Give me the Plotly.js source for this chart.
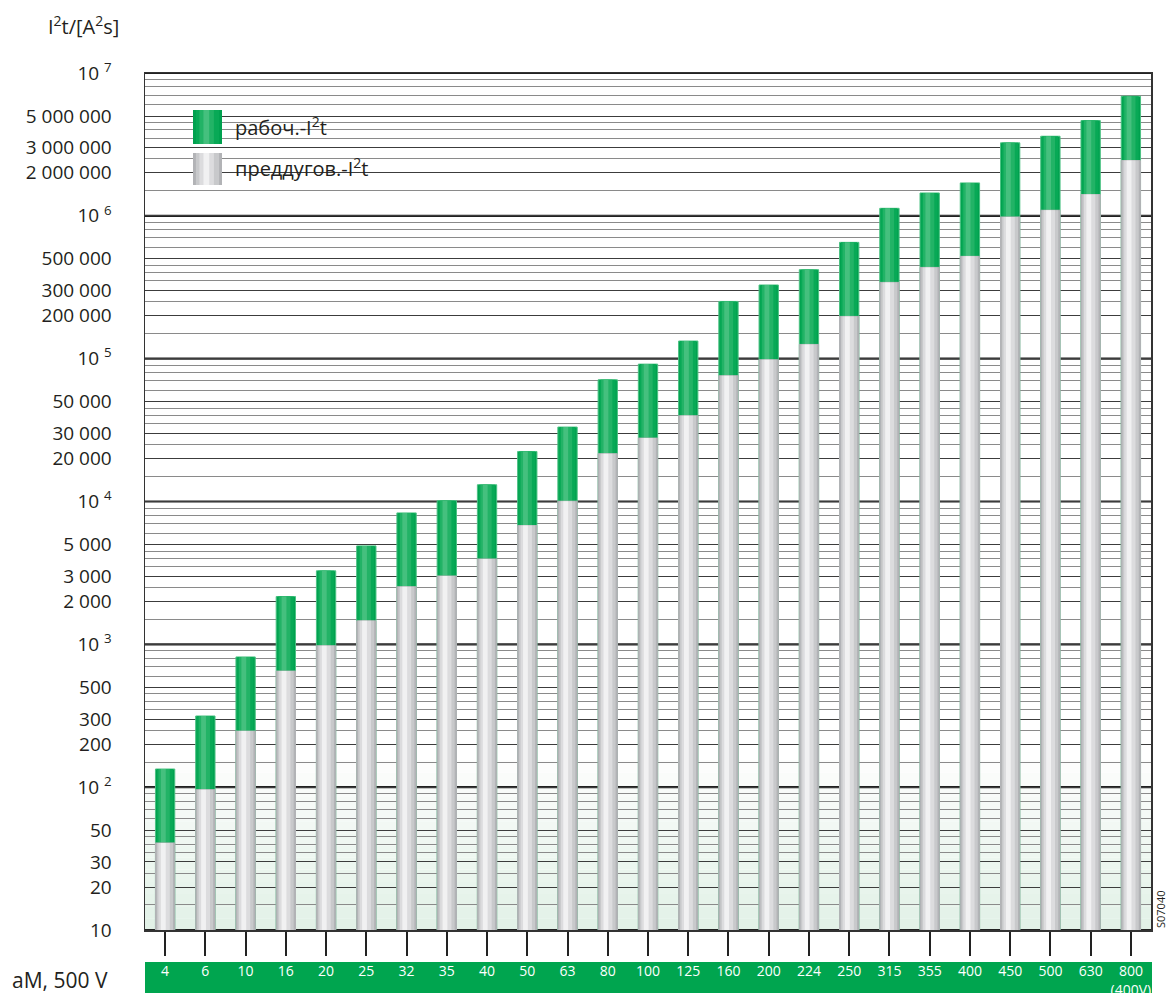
<!DOCTYPE html>
<html>
<head>
<meta charset="utf-8">
<script src="https://cdn.plot.ly/plotly-3.0.1.min.js"></script>
<style>html,body{margin:0;padding:0;background:#fff;}#chart{width:1169px;height:993px;}</style>
</head>
<body>
<div id="chart"></div>
<script>
// ---- data ----
const categories = ['4','6','10','16','20','25','32','35','40','50','63','80','100','125','160','200','224','250','315','355','400','450','500','630','800'];
const categoryLabels = ['4','6','10','16','20','25','32','35','40','50','63','80','100','125','160','200','224','250','315','355','400','450','500','630','800<br>(400V)'];
// pre-arcing I2t (grey part top)
const preArcing = [40.7, 96, 247, 650, 977, 1460, 2530, 3010, 3960, 6780, 10050, 21600, 27800, 39800, 75900, 98200, 125800, 197600, 342000, 435500, 520300, 982000, 1094000, 1408000, 2437000];
// operating I2t (green part top)
const operating = [134, 315, 816, 2160, 3270, 4890, 8320, 10140, 13100, 22400, 33200, 71100, 91600, 132900, 251600, 328000, 419800, 651900, 1129000, 1446000, 1700000, 3243000, 3608000, 4645000, 6875000];
// y tick labels
const yTickVals = [10, 20, 30, 50, 100, 200, 300, 500, 1e3, 2e3, 3e3, 5e3, 1e4, 2e4, 3e4, 5e4, 1e5, 2e5, 3e5, 5e5, 1e6, 2e6, 3e6, 5e6, 1e7];
const yTickText = ['10','20','30','50','10 <sup>2</sup>','200','300','500','10 <sup>3</sup>','2 000','3 000','5 000','10 <sup>4</sup>','20 000','30 000','50 000','10 <sup>5</sup>','200 000','300 000','500 000','10 <sup>6</sup>','2 000 000','3 000 000','5 000 000','10 <sup>7</sup>'];
const gridMantissas = [1.5, 2.5, 3.5, 4, 4.5, 6, 7, 8, 9];
const decades = [10, 100, 1e3, 1e4, 1e5, 1e6, 1e7];
const legendNames = ['рабоч.-I<sup>2</sup>t', 'преддугов.-I<sup>2</sup>t'];

// ---- geometry helpers (pixel -> paper) ----
const M = {l:145, r:18, t:73, b:63};
const W = 1169, H = 993;
const pw = W - M.l - M.r, ph = H - M.t - M.b;
const px = x => (x - M.l) / pw;
const py = y => (H - M.b - y) / ph;

const minorVals = [];
decades.slice(0, -1).forEach(d => gridMantissas.forEach(m => minorVals.push(d * m)));

const widths = [0.48, 0.40, 0.28, 0.12];
const offsets = [-0.24, -0.205, -0.165, -0.105];
const greenCols = ['#00a14f', '#08a956', '#22b366', '#45c07e'];
const greyCols = ['#b2b3b6', '#c8c9cb', '#dcdcde', '#f1f1f2'];

const traces = [];
function addLayers(yv, cols, lineCol) {
  cols.forEach((c, i) => {
    traces.push({
      type: 'bar', x: categories, y: yv,
      width: widths[i], offset: offsets[i],
      marker: {color: c, line: {color: i === 0 ? lineCol : c, width: i === 0 ? 1 : 0}},
      showlegend: false, hoverinfo: 'skip'
    });
  });
}
addLayers(operating, greenCols, '#4cc283');
addLayers(preArcing, greyCols, '#b2b3b6');

const shapes = [];
// bottom light green tint
const nT = 14;
for (let i = 0; i < nT; i++) {
  const y0 = 930.5 - i * (170 / nT), y1 = 930.5 - (i + 1) * (170 / nT);
  const f = i / (nT - 1);
  const r = Math.round(226 + (252 - 226) * f), g = Math.round(241 + (253 - 241) * f), b = Math.round(231 + (252 - 231) * f);
  shapes.push({type:'rect', xref:'paper', yref:'paper', x0:0, x1:1, y0:py(y0), y1:py(y1), line:{width:0}, fillcolor:`rgb(${r},${g},${b})`, layer:'below'});
}
// decade lines (thicker)
decades.forEach(d => shapes.push({type:'line', xref:'paper', yref:'y', x0:0, x1:1, y0:d, y1:d, line:{color:'#222', width:2.2}, layer:'between'}));
// legend white box
shapes.push({type:'rect', xref:'paper', yref:'paper', x0:px(174), x1:px(391), y0:py(98), y1:py(194), line:{width:0}, fillcolor:'#ffffff', layer:'between'});
// legend swatches
function swatch(y0, y1, cols) {
  const x0 = 193, x1 = 222, w = x1 - x0;
  const fr = [[0,1],[0.1,0.9],[0.22,0.72],[0.36,0.56]];
  cols.forEach((c, i) => shapes.push({type:'rect', xref:'paper', yref:'paper', x0:px(x0 + w*fr[i][0]), x1:px(x0 + w*fr[i][1]), y0:py(y1), y1:py(y0), line:{width:0}, fillcolor:c, layer:'above'}));
}
swatch(110, 144, greenCols);
swatch(153, 185, greyCols);
// green category band
shapes.push({type:'rect', xref:'paper', yref:'paper', x0:0, x1:px(1152), y0:py(962), y1:py(1000), line:{width:0}, fillcolor:'#00a54f', layer:'below'});

const txt = '#231f20';
const font = '"Open Sans", "Noto Sans", sans-serif';
const annotations = [
  {text: 'I<sup>2</sup>t/[A<sup>2</sup>s]', xref:'paper', yref:'paper', x:px(46), y:py(25), xanchor:'left', yanchor:'middle', showarrow:false, font:{size:20, color:txt, family:font}},
  {text: 'aM, 500 V', xref:'paper', yref:'paper', x:px(10), y:py(980), xanchor:'left', yanchor:'middle', showarrow:false, font:{size:21, color:txt, family:font}},
  {text: 'S07040', xref:'paper', yref:'paper', x:px(1160), y:py(910), xanchor:'center', yanchor:'middle', textangle:-90, showarrow:false, font:{size:11, color:txt, family:font}},
  {text: legendNames[0], xref:'paper', yref:'paper', x:px(233), y:py(126), xanchor:'left', yanchor:'middle', showarrow:false, font:{size:20, color:txt, family:font}},
  {text: legendNames[1], xref:'paper', yref:'paper', x:px(233), y:py(167), xanchor:'left', yanchor:'middle', showarrow:false, font:{size:20, color:txt, family:font}}
];

const layout = {
  width: W, height: H,
  margin: M,
  paper_bgcolor: '#ffffff', plot_bgcolor: 'rgba(0,0,0,0)',
  barmode: 'overlay',
  showlegend: false,
  font: {family: font, color: txt},
  xaxis: {
    type: 'category', range: [-0.5, categories.length - 0.5],
    tickmode: 'array', tickvals: categories, ticktext: categoryLabels,
    ticks: 'outside', ticklen: 24, tickwidth: 2, tickcolor: '#222',
    tickfont: {size: 14, color: '#ffffff', family: font},
    ticklabelstandoff: 4,
    showline: true, linecolor: '#333', linewidth: 1.5, mirror: true,
    showgrid: false, zeroline: false, fixedrange: true
  },
  yaxis: {
    type: 'log', range: [1, 7],
    tickmode: 'array', tickvals: yTickVals, ticktext: yTickText,
    ticks: '', ticklabelstandoff: 28,
    tickfont: {size: 19, color: txt, family: font},
    showgrid: true, gridcolor: '#3c3c3c', gridwidth: 1,
    minor: {tickmode: 'array', tickvals: minorVals, showgrid: true, gridcolor: '#8a8a8a', gridwidth: 1, ticks: ''},
    showline: true, linecolor: '#333', linewidth: 1.5, mirror: true,
    zeroline: false, fixedrange: true
  },
  shapes: shapes,
  annotations: annotations
};

Plotly.newPlot('chart', traces, layout, {staticPlot: true, displayModeBar: false});
</script>
</body>
</html>
